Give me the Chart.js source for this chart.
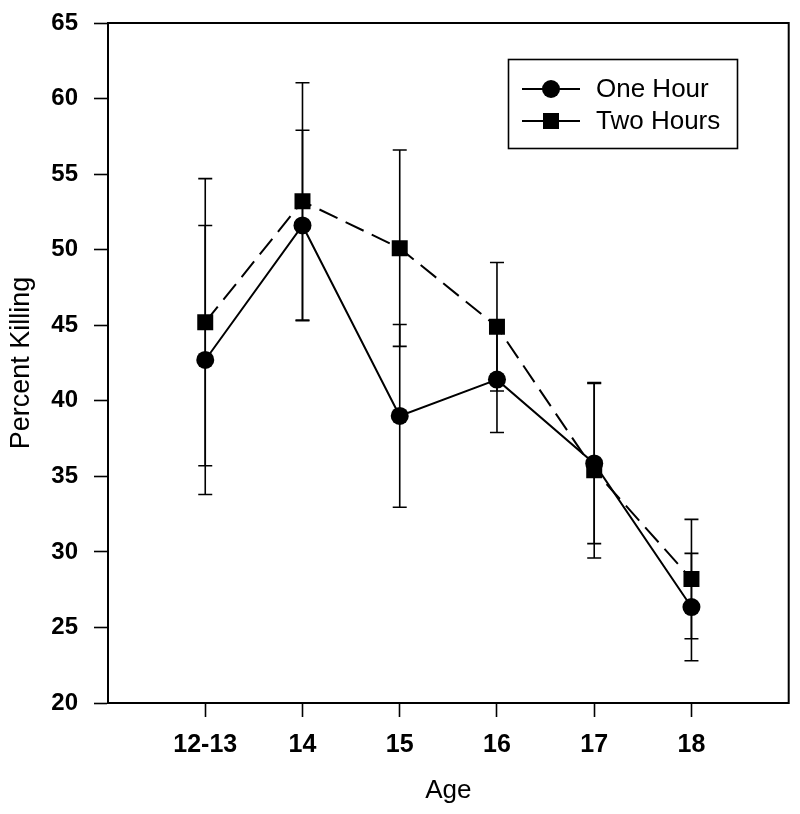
<!DOCTYPE html>
<html><head><meta charset="utf-8">
<script src="https://cdn.jsdelivr.net/npm/chart.js@4.4.1/dist/chart.umd.min.js"></script>
<style>html,body{margin:0;padding:0;background:#fff}#wrap{width:800px;height:814px}</style>
</head><body><div id="wrap"><canvas id="c" width="800" height="814"></canvas></div>
<script>
const categories = ['12-13', '14', '15', '16', '17', '18'];
const oneHour = [42.7, 51.6, 39.0, 41.4, 35.85, 26.35];
const oneHourErr = [8.9, 6.3, 6.05, 3.5, 5.3, 3.55];
const twoHours = [45.2, 53.2, 50.1, 44.9, 35.4, 28.2];
const twoHoursErr = [9.5, 7.85, 6.5, 4.25, 5.8, 3.95];
const yTicks = [20, 25, 30, 35, 40, 45, 50, 55, 60, 65];
const seriesNames = ['One Hour', 'Two Hours'];

const FONT = "'Liberation Sans', Arial, Helvetica, sans-serif";

const toPoints = arr => arr.map((v, i) => ({ x: i, y: v }));

const errorBars = {
  id: 'errorBars',
  beforeDatasetsDraw(chart) {
    const { ctx, scales: { x, y } } = chart;
    ctx.save();
    ctx.strokeStyle = '#000';
    ctx.lineWidth = 1.6;
    chart.data.datasets.forEach(ds => {
      ds.data.forEach((p, i) => {
        const e = ds.errors[i];
        const px = x.getPixelForValue(p.x);
        const t = y.getPixelForValue(p.y + e);
        const b = y.getPixelForValue(p.y - e);
        ctx.beginPath();
        ctx.moveTo(px, t); ctx.lineTo(px, b);
        ctx.moveTo(px - 7, t); ctx.lineTo(px + 7, t);
        ctx.moveTo(px - 7, b); ctx.lineTo(px + 7, b);
        ctx.stroke();
      });
    });
    const a = chart.chartArea;
    ctx.lineWidth = 2;
    ctx.strokeRect(a.left, a.top, a.right - a.left, a.bottom - a.top);
    ctx.restore();
  }
};

function drawMarker(ctx, style, r, x, y) {
  ctx.beginPath();
  if (style === 'rect') {
    const s = r * Math.SQRT1_2;
    ctx.rect(x - s, y - s, 2 * s, 2 * s);
  } else {
    ctx.arc(x, y, r, 0, Math.PI * 2);
  }
  ctx.fill();
}

const boxLegend = {
  id: 'boxLegend',
  afterDraw(chart) {
    const { ctx } = chart;
    ctx.save();
    ctx.strokeStyle = '#000';
    ctx.fillStyle = '#000';
    ctx.lineWidth = 1.6;
    ctx.strokeRect(508.5, 59.5, 229, 89);
    chart.data.datasets.forEach((ds, i) => {
      const yy = 89 + i * 32;
      ctx.beginPath();
      ctx.setLineDash([]);
      ctx.lineWidth = 2;
      ctx.moveTo(522, yy); ctx.lineTo(580, yy);
      ctx.stroke();
      drawMarker(ctx, ds.pointStyle, ds.pointRadius, 551, yy);
      ctx.font = '26px ' + FONT;
      ctx.textBaseline = 'middle';
      ctx.textAlign = 'left';
      ctx.fillText(ds.label, 596, yy + 1);
    });
    ctx.restore();
  }
};

new Chart(document.getElementById('c'), {
  type: 'line',
  data: {
    datasets: [
      {
        label: seriesNames[0], data: toPoints(oneHour), errors: oneHourErr,
        borderColor: '#000', backgroundColor: '#000', borderWidth: 2,
        pointStyle: 'circle', pointRadius: 9, pointBorderWidth: 0,
        pointBackgroundColor: '#000', tension: 0, fill: false
      },
      {
        label: seriesNames[1], data: toPoints(twoHours), errors: twoHoursErr,
        borderColor: '#000', backgroundColor: '#000', borderWidth: 2, borderDash: [20, 9],
        pointStyle: 'rect', pointRadius: 11.3, pointBorderWidth: 0,
        pointBackgroundColor: '#000', tension: 0, fill: false
      }
    ]
  },
  options: {
    responsive: false,
    animation: false,
    devicePixelRatio: 1,
    layout: { padding: { top: 23, right: 11, left: 0, bottom: 0 } },
    plugins: { legend: { display: false }, tooltip: { enabled: false } },
    scales: {
      x: {
        type: 'linear', min: -1, max: 6,
        afterBuildTicks: s => { s.ticks = categories.map((_, i) => ({ value: i })); },
        afterFit: s => { s.height = 111; s.paddingLeft = 0; s.paddingRight = 0; },
        grid: { drawOnChartArea: false, drawTicks: true, tickLength: 14, tickColor: '#000', tickWidth: 1.6 },
        border: { color: '#000', width: 2 },
        ticks: {
          callback: v => categories[v], color: '#000', autoSkip: false, maxRotation: 0,
          font: { family: FONT, size: 25, weight: 'bold' }, padding: 13
        },
        title: { display: true, text: 'Age', color: '#000', font: { family: FONT, size: 26 }, padding: { top: 0, bottom: 8 } }
      },
      y: {
        min: 20, max: 65,
        afterBuildTicks: s => { s.ticks = yTicks.map(v => ({ value: v })); },
        afterFit: s => { s.width = 108; s.paddingTop = 0; s.paddingBottom = 0; },
        grid: { drawOnChartArea: false, drawTicks: true, tickLength: 14, tickColor: '#000', tickWidth: 1.6 },
        border: { color: '#000', width: 2 },
        ticks: { color: '#000', font: { family: FONT, size: 24, weight: 'bold' }, padding: 16 },
        title: { display: true, text: 'Percent Killing', color: '#000', font: { family: FONT, size: 27 }, padding: { top: 5, bottom: 0 } }
      }
    }
  },
  plugins: [errorBars, boxLegend]
});
</script>
</body></html>
